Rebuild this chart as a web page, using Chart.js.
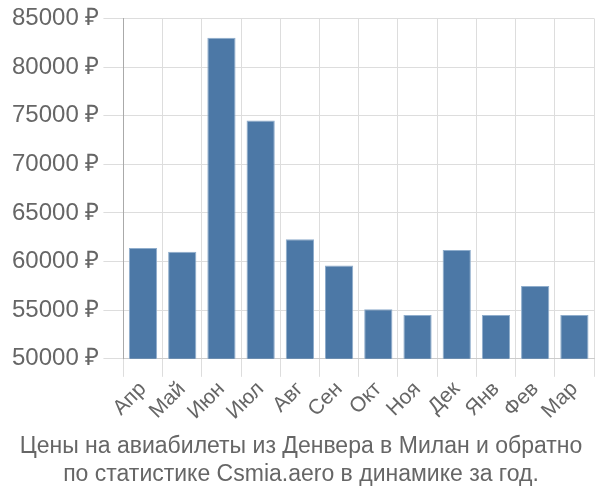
<!DOCTYPE html>
<html>
<head>
<meta charset="utf-8">
<style>
  html, body { margin: 0; padding: 0; background: #fff; }
  #wrap { width: 600px; height: 500px; }
</style>
</head>
<body>
<div id="wrap">
  <canvas id="myChart" width="600" height="500"></canvas>
</div>

<script src="https://cdn.jsdelivr.net/npm/chart.js"></script>
<script>
  // данные с картинки
  const months = ['Апр', 'Май', 'Июн', 'Июл', 'Авг', 'Сен', 'Окт', 'Ноя', 'Дек', 'Янв', 'Фев', 'Мар'];
  const prices = [61400, 61000, 83000, 74500, 62300, 59600, 55100, 54500, 61200, 54500, 57500, 54500];
  const titleLines = ['Цены на авиабилеты из Денвера в Милан и обратно', 'по статистике Csmia.aero в динамике за год.'];

  Chart.defaults.font.family = '"Liberation Sans", Arial, sans-serif';
  Chart.defaults.color = '#666';

  const ctx = document.getElementById('myChart');
  const myChart = new Chart(ctx, {
    type: 'bar',
    data: {
      labels: months,
      datasets: [{
        data: prices,
        backgroundColor: '#4c78a6',
        borderColor: '#8fadcc',
        borderWidth: 1,
        categoryPercentage: 0.8,
        barPercentage: 0.9
      }]
    },
    options: {
      responsive: false,
      animation: false,
      layout: { padding: { left: 8, right: 6, top: 0, bottom: 12 } },
      plugins: {
        legend: { display: false },
        tooltip: { enabled: false },
        title: {
          display: true,
          position: 'bottom',
          text: titleLines,
          color: '#666',
          font: { size: 23, weight: 'normal' },
          padding: { top: 8, bottom: 0 },
          lineHeight: 1.2
        }
      },
      scales: {
        x: {
          grid: { color: '#ddd', lineWidth: 1, offset: true, tickLength: 18 },
          border: { color: '#ccc' },
          ticks: {
            font: { size: 21 },
            color: '#666',
            maxRotation: 45,
            minRotation: 45,
            autoSkip: false,
            padding: 0
          }
        },
        y: {
          min: 50000,
          max: 85000,
          grid: { color: '#ddd', lineWidth: 1, tickLength: 20 },
          border: { color: '#aaa', width: 1 },
          ticks: {
            stepSize: 5000,
            font: { size: 24 },
            color: '#666',
            padding: 4,
            callback: (v) => v + ' ₽'
          }
        }
      }
    }
  });
</script>
</body>
</html>
